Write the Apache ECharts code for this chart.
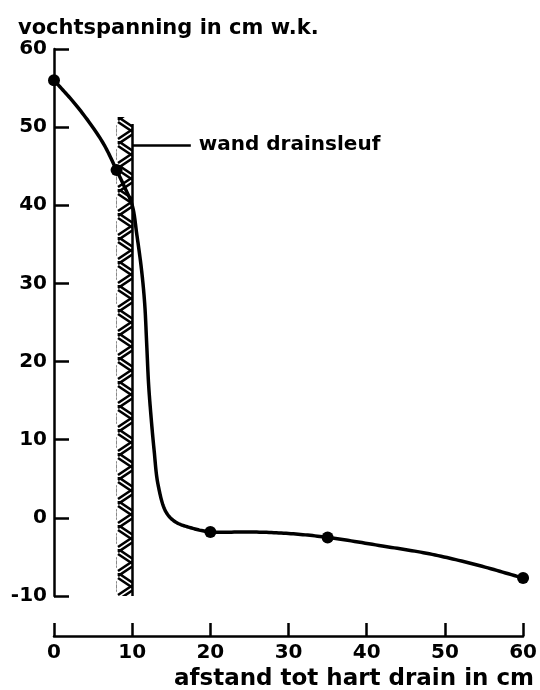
<!DOCTYPE html>
<html><head><meta charset="utf-8">
<script src="https://cdn.jsdelivr.net/npm/echarts@6/dist/echarts.min.js"></script>
<style>html,body{margin:0;padding:0;background:#fff}#c{width:540px;height:690px}</style>
</head><body><div id="c"></div>
<script>
// tick labels
const xTickLabels = [0, 10, 20, 30, 40, 50, 60];
const yTickLabels = [-10, 0, 10, 20, 30, 40, 50, 60];
// measured points (dots)
const measuredX = [0, 8, 20, 35, 60];
const measuredY = [56, 44.5, -1.8, -2.5, -7.7];
// traced curve through the measurements
const curveX = [0, 3, 6.2, 8, 8.9, 10, 10.6, 11.2, 11.6, 11.85, 12.1, 12.4, 12.8, 13.3, 14.3, 15.5, 17.6, 20, 25, 30, 35, 42, 48, 54, 60];
const curveY = [56, 52.6, 48.1, 44.5, 42.6, 40, 36.2, 31.7, 27.4, 22.4, 17.1, 13.1, 8.7, 4.3, 0.8, -0.5, -1.3, -1.8, -1.8, -2.0, -2.5, -3.6, -4.6, -6.0, -7.7];
// drain trench wall
const wallX = 10;
const wallBottom = -10;
const wallTop = 50.4;
const hatchLeft = 8;
const hatchTop = 51.3;
const wallLabelY = 47.7;
const wallLabelEndX = 17.5;
const wallLabel = 'wand drainsleuf';
const yTitle = 'vochtspanning in cm w.k.';
const xTitle = 'afstand tot hart drain in cm';

const FONT = 'DejaVu Sans';

// hatch pattern tile
const TW = 16, TH = 24;
const pc = document.createElement('canvas');
pc.width = TW; pc.height = TH;
const g = pc.getContext('2d');
g.strokeStyle = '#000'; g.lineWidth = 2.6; g.lineCap = 'butt';
g.beginPath();
g.moveTo(1, 0); g.lineTo(16, 10);
g.moveTo(1, 5); g.lineTo(16, 15);
g.moveTo(1, 22); g.lineTo(16, 12);
g.moveTo(1, 27); g.lineTo(16, 17);
g.moveTo(1, -2); g.lineTo(16, -12);
g.moveTo(1, 3); g.lineTo(16, -7);
g.stroke();

// centripetal Catmull-Rom through pixel points (rendering only)
function spline(P, steps) {
  const out = [];
  const n = P.length;
  const ext = [[2 * P[0][0] - P[1][0], 2 * P[0][1] - P[1][1]], ...P,
               [2 * P[n - 1][0] - P[n - 2][0], 2 * P[n - 1][1] - P[n - 2][1]]];
  const tj = (ti, a, b) => ti + Math.pow(Math.hypot(b[0] - a[0], b[1] - a[1]), 0.5) + 1e-6;
  for (let i = 0; i < n - 1; i++) {
    const p0 = ext[i], p1 = ext[i + 1], p2 = ext[i + 2], p3 = ext[i + 3];
    const t0 = 0, t1 = tj(t0, p0, p1), t2 = tj(t1, p1, p2), t3 = tj(t2, p2, p3);
    for (let s = 0; s < steps; s++) {
      const t = t1 + (t2 - t1) * s / steps;
      const pt = [0, 1].map(k => {
        const A1 = (t1 - t) / (t1 - t0) * p0[k] + (t - t0) / (t1 - t0) * p1[k];
        const A2 = (t2 - t) / (t2 - t1) * p1[k] + (t - t1) / (t2 - t1) * p2[k];
        const A3 = (t3 - t) / (t3 - t2) * p2[k] + (t - t2) / (t3 - t2) * p3[k];
        const B1 = (t2 - t) / (t2 - t0) * A1 + (t - t0) / (t2 - t0) * A2;
        const B2 = (t3 - t) / (t3 - t1) * A2 + (t - t1) / (t3 - t1) * A3;
        return (t2 - t) / (t2 - t1) * B1 + (t - t1) / (t2 - t1) * B2;
      });
      out.push(pt);
    }
  }
  out.push(P[n - 1]);
  return out;
}

const chart = echarts.init(document.getElementById('c'), null, {renderer: 'canvas'});
const dotData = measuredX.map((x, i) => [x, measuredY[i]]);

function build(patX, patY) {
  return {
  animation: false,
  backgroundColor: '#fff',
  title: [
    {text: yTitle, left: 13, top: 13, textStyle: {fontFamily: FONT, fontSize: 21, fontWeight: 'bold', color: '#000'}},
    {text: xTitle, right: 1, top: 663, textStyle: {fontFamily: FONT, fontSize: 23, fontWeight: 'bold', color: '#000'}}
  ],
  grid: {left: 54, right: 13, top: 49, bottom: 94, containLabel: false},
  xAxis: {
    type: 'value', min: 0, max: 60, interval: 10,
    offset: 40,
    axisLine: {show: true, onZero: false, lineStyle: {color: '#000', width: 2.5}},
    axisTick: {show: true, inside: true, length: 13, lineStyle: {color: '#000', width: 2.5}},
    axisLabel: {fontFamily: FONT, fontSize: 20, fontWeight: 'bold', color: '#000', margin: 7,
      formatter: v => xTickLabels.includes(v) ? String(v) : ''},
    splitLine: {show: false}
  },
  yAxis: {
    type: 'value', min: -10, max: 60, interval: 10,
    axisLine: {show: true, onZero: false, lineStyle: {color: '#000', width: 2.5}},
    axisTick: {show: true, inside: true, length: 15, lineStyle: {color: '#000', width: 2.5}},
    axisLabel: {fontFamily: FONT, fontSize: 20, fontWeight: 'bold', color: '#000', margin: 7,
      formatter: v => yTickLabels.includes(v) ? String(v) : ''},
    splitLine: {show: false}
  },
  series: [
    {
      type: 'custom', data: [[0, 0]], z: 3, silent: true,
      renderItem: (params, api) => {
        const pts = curveX.map((x, i) => api.coord([x, curveY[i]]));
        return {
          type: 'polyline',
          shape: {points: spline(pts, 16)},
          style: {stroke: '#000', lineWidth: 3.5, fill: null, lineJoin: 'round', lineCap: 'round'}
        };
      },
      markArea: {
        silent: true,
        itemStyle: {color: {image: pc, repeat: 'repeat', x: patX, y: patY}},
        data: [[{coord: [hatchLeft, wallBottom]}, {coord: [wallX, hatchTop]}]]
      },
      markLine: {
        silent: true, symbol: 'none',
        lineStyle: {color: '#000', width: 2.5, type: 'solid'},
        data: [
          [{coord: [wallX, wallBottom], label: {show: false}}, {coord: [wallX, wallTop]}],
          [{coord: [wallX, wallLabelY], label: {show: true, position: 'end', formatter: wallLabel, distance: 8,
             fontFamily: FONT, fontSize: 20, fontWeight: 'bold', color: '#000'}},
           {coord: [wallLabelEndX, wallLabelY]}]
        ]
      }
    },
    {
      type: 'scatter', data: dotData, symbol: 'circle', symbolSize: 12,
      itemStyle: {color: '#000', opacity: 1}, z: 4
    }
  ]
  };
}
chart.setOption(build(0, 0));
const p = chart.convertToPixel({gridIndex: 0}, [hatchLeft, hatchTop]);
chart.setOption(build(Math.round(p[0]), Math.round(p[1])));
</script></body></html>
